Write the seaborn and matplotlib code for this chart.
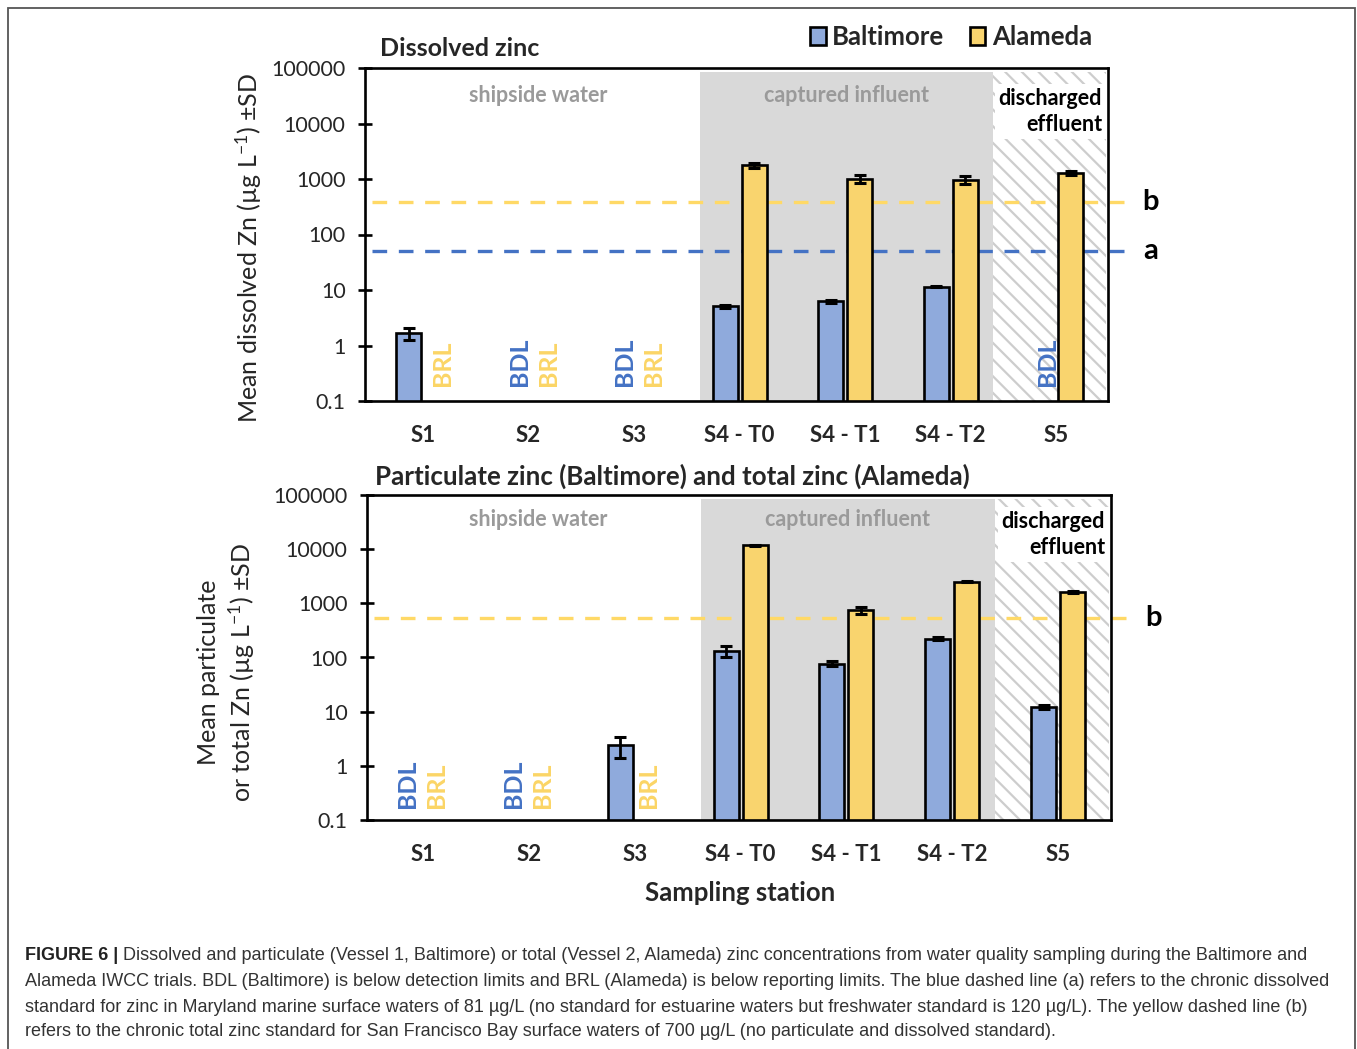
import numpy as np
import pandas as pd
import matplotlib
matplotlib.use("Agg")
import matplotlib.pyplot as plt
import seaborn as sns
from matplotlib.patches import Patch, Rectangle
from matplotlib.transforms import blended_transform_factory

# ---- data -------------------------------------------------------------
stations = ["S1", "S2", "S3", "S4 - T0", "S4 - T1", "S4 - T2", "S5"]
sites = ["Baltimore", "Alameda"]
nan = np.nan

# dissolved zinc (µg/L), mean and SD; NaN = below detection / reporting limit
baltimore_dissolved = [1.65, nan, nan, 5.1, 6.3, 11.5, nan]
baltimore_dissolved_sd = [0.4, nan, nan, 0.3, 0.4, 0.3, nan]
alameda_dissolved = [nan, nan, nan, 1770, 1010, 960, 1300]
alameda_dissolved_sd = [nan, nan, nan, 180, 150, 150, 110]

# particulate (Baltimore) and total (Alameda) zinc (µg/L)
baltimore_particulate = [nan, nan, 2.4, 131, 77, 222, 12.3]
baltimore_particulate_sd = [nan, nan, 1.0, 30, 8, 15, 1.2]
alameda_total = [nan, nan, nan, 11800, 750, 2520, 1620]
alameda_total_sd = [nan, nan, nan, 200, 110, 80, 90]

# reference standards as drawn (µg/L)
dissolved_lines = {"b": 390, "a": 50}
total_lines = {"b": 530}

yticks = [0.1, 1, 10, 100, 1000, 10000, 100000]
ytick_labels = ["0.1", "1", "10", "100", "1000", "10000", "100000"]

# ---- style ------------------------------------------------------------
BLUE = "#8FAADC"
YELLOW = "#F9D46E"
BLUE_TXT = "#4472C4"
YELLOW_TXT = "#FBD566"
LINE_YELLOW = "#FFD966"
LINE_BLUE = "#4472C4"
SECTION_GRAY = "#9A9A9A"

sns.set_theme(style="white")
plt.rcParams["font.family"] = ["Lato", "DejaVu Sans"]
plt.rcParams["mathtext.fontset"] = "custom"
plt.rcParams["mathtext.rm"] = "Lato"
plt.rcParams["mathtext.default"] = "regular"
plt.rcParams["hatch.linewidth"] = 1.6

W, H = 1357, 1049
fig = plt.figure(figsize=(W / 100, H / 100), dpi=100)


def fx(px):
    return px / W


def fy(py):
    return 1 - py / H


ax1 = fig.add_axes([fx(365), fy(401), fx(1108) - fx(365), fy(68) - fy(401)])
ax2 = fig.add_axes([fx(367), fy(820), fx(1111) - fx(367), fy(495) - fy(820)])


def draw_panel(ax, balt, balt_sd, alam, alam_sd, lines, text_y, label_y,
               xlim, label_shift):
    df = pd.DataFrame({
        "station": stations * 2,
        "site": ["Baltimore"] * len(stations) + ["Alameda"] * len(stations),
        "zn": balt + alam,
    })
    sds = {"Baltimore": balt_sd, "Alameda": alam_sd}
    vals = {"Baltimore": balt, "Alameda": alam}

    sns.barplot(data=df, x="station", y="zn", hue="site", order=stations,
                hue_order=sites, palette=[BLUE, YELLOW], saturation=1,
                width=0.55, gap=0.14, errorbar=None, edgecolor="black",
                linewidth=1.9, legend=False, ax=ax, zorder=3)
    ax.set_yscale("log")
    ax.set_ylim(0.1, 1e5)
    ax.set_xlim(*xlim)

    # error bars (± SD) at the drawn bar tops
    for site, cont in zip(sites, ax.containers):
        for p in cont.patches:
            h = p.get_height()
            if not np.isfinite(h) or h <= 0:
                continue
            cx = p.get_x() + p.get_width() / 2
            i = int(round(cx))
            ax.errorbar(cx, h, yerr=sds[site][i], fmt="none", ecolor="black",
                        elinewidth=2.0, capsize=4.5, capthick=2.2, zorder=4)

    # sample-type zones
    ax.axvspan(2.625, 5.40, ymin=0, ymax=0.988, color="#D9D9D9", lw=0, zorder=0)
    ax.axvspan(5.40, xlim[1] - 0.015, ymin=0, ymax=0.988, facecolor="white",
               edgecolor="#CDCDCD", hatch="\\\\", lw=0, zorder=0)

    bt = blended_transform_factory(ax.transData, ax.transAxes)
    ax.text(1.09, text_y, "shipside water", transform=bt, ha="center",
            va="center", color=SECTION_GRAY, fontsize=15.5, fontweight="bold")
    ax.text(4.01, text_y, "captured influent", transform=bt, ha="center",
            va="center", color=SECTION_GRAY, fontsize=15.5, fontweight="bold")
    ax.text(0.992, text_y + 0.025, "discharged\neffluent", transform=ax.transAxes,
            ha="right", va="top", color="black", fontsize=15.5, fontweight="bold",
            linespacing=1.3, zorder=2,
            bbox=dict(fc="white", ec="none", pad=3))

    # standards as dashed lines reaching past the frame
    lt = blended_transform_factory(ax.transAxes, ax.transData)
    for name, val in lines.items():
        col = LINE_YELLOW if name == "b" else LINE_BLUE
        ax.plot([0.01, 1.027], [val, val], transform=lt, color=col, lw=2.4,
                dashes=(4.4, 3.5), clip_on=False, zorder=2)
        ax.text(1.057, val, name, transform=lt, ha="center", va="center",
                fontsize=21, fontweight="bold", color="black")

    # below-limit markers where no bar is drawn
    for site, off, txt, col in [("Baltimore", -0.1375, "BDL", BLUE_TXT),
                                ("Alameda", 0.1375, "BRL", YELLOW_TXT)]:
        for i, v in enumerate(vals[site]):
            if np.isnan(v):
                ax.text(i + off + label_shift, label_y, txt, transform=bt,
                        rotation=90, ha="center", va="bottom", color=col,
                        fontsize=18, fontweight="bold")

    ax.set_yticks(yticks)
    ax.set_yticklabels(ytick_labels)
    ax.yaxis.set_minor_locator(matplotlib.ticker.NullLocator())
    ax.tick_params(axis="y", left=True, direction="inout", length=10,
                   width=1.9, color="black", labelsize=15.5, pad=9)
    ax.tick_params(axis="x", bottom=False, length=0, labelsize=16, pad=17)
    for lab in ax.get_xticklabels():
        lab.set_fontweight("bold")
    ax.set_xlabel("")
    ax.set_ylabel("")
    for s in ax.spines.values():
        s.set_color("black")
        s.set_linewidth(1.9)
        s.set_zorder(5)


draw_panel(ax1, baltimore_dissolved, baltimore_dissolved_sd,
           alameda_dissolved, alameda_dissolved_sd, dissolved_lines,
           text_y=0.916, label_y=0.045, xlim=(-0.55, 6.49), label_shift=0.05)
draw_panel(ax2, baltimore_particulate, baltimore_particulate_sd,
           alameda_total, alameda_total_sd, total_lines,
           text_y=0.926, label_y=0.037, xlim=(-0.53, 6.50), label_shift=-0.01)

# titles, axis labels, legend
fig.text(fx(380), fy(48), "Dissolved zinc", ha="left", va="center",
         fontsize=18, fontweight="bold")
fig.text(fx(375), fy(476), "Particulate zinc (Baltimore) and total zinc (Alameda)",
         ha="left", va="center", fontsize=18.6, fontweight="bold")
fig.text(fx(249), fy(248), "Mean dissolved Zn (µg L$^{-1}$) ±SD", rotation=90,
         ha="center", va="center", fontsize=18)
fig.text(fx(227), fy(672), "Mean particulate\nor total Zn (µg L$^{-1}$) ±SD",
         rotation=90, ha="center", va="center", fontsize=18, linespacing=1.3,
         multialignment="center")
fig.text(fx(740), fy(893), "Sampling station", ha="center", va="center",
         fontsize=18.5, fontweight="bold")

handles = [Patch(facecolor=BLUE, edgecolor="black", lw=1.9, label="Baltimore"),
           Patch(facecolor=YELLOW, edgecolor="black", lw=1.9, label="Alameda")]
fig.legend(handles=handles, loc="center right", ncol=2, frameon=False,
           bbox_to_anchor=(fx(1092), fy(37)), prop=dict(weight="bold", size=18.5),
           handlelength=0.6, handleheight=0.7, handletextpad=0.25,
           columnspacing=1.0, borderaxespad=0, borderpad=0)

# caption, sized so the longest line spans the text block
cap_font = ["Liberation Sans Narrow", "Liberation Sans", "DejaVu Sans"]
cap_lines = [
    "Dissolved and particulate (Vessel 1, Baltimore) or total (Vessel 2, Alameda) zinc concentrations from water quality sampling during the Baltimore and",
    "Alameda IWCC trials. BDL (Baltimore) is below detection limits and BRL (Alameda) is below reporting limits. The blue dashed line (a) refers to the chronic dissolved",
    "standard for zinc in Maryland marine surface waters of 81 µg/L (no standard for estuarine waters but freshwater standard is 120 µg/L). The yellow dashed line (b)",
    "refers to the chronic total zinc standard for San Francisco Bay surface waters of 700 µg/L (no particulate and dissolved standard).",
]
cap_y = [956, 982, 1007, 1032]
renderer = fig.canvas.get_renderer()
probe = fig.text(0, 0, cap_lines[1], fontsize=13.5, family=cap_font)
pw = probe.get_window_extent(renderer=renderer).width
probe.remove()
cap_size = min(13.5, 13.5 * (1322 - 25) / pw)

head = fig.text(fx(25), fy(cap_y[0]), "FIGURE 6 | ", ha="left", va="center",
                fontsize=cap_size, fontweight="bold", family=cap_font,
                color="#222222")
bb = head.get_window_extent(renderer=renderer)
fig.text(bb.x1 / W, fy(cap_y[0]), cap_lines[0], ha="left", va="center",
         fontsize=cap_size, family=cap_font, color="#333333")
for line, y in zip(cap_lines[1:], cap_y[1:]):
    fig.text(fx(25), fy(y), line, ha="left", va="center", fontsize=cap_size,
             family=cap_font, color="#333333")

# outer frame
fig.patches.append(Rectangle((fx(8), -0.02), fx(1355) - fx(8), fy(8) + 0.02,
                             transform=fig.transFigure, fill=False,
                             edgecolor="#555555", lw=1.3))

fig.savefig("out.png", dpi=100)
